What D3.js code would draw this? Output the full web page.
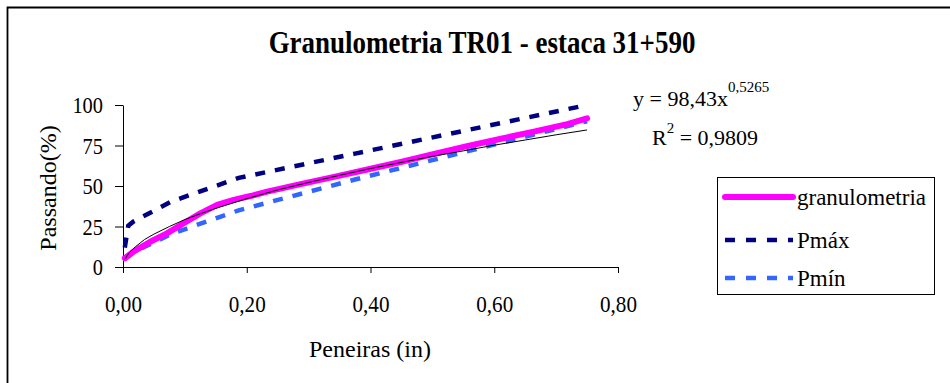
<!DOCTYPE html>
<html>
<head>
<meta charset="utf-8">
<script src="https://cdn.jsdelivr.net/npm/d3@7"></script>
<style>
  html, body { margin: 0; padding: 0; background: #fff; }
  svg { display: block; }
</style>
</head>
<body>
<svg id="chart" width="950" height="383"></svg>
<script>
// ---- data ----
const title = "Granulometria TR01 - estaca 31+590";
const xTicks = [0, 0.2, 0.4, 0.6, 0.8];
const yTicks = [0, 25, 50, 75, 100];
const xLabel = "Peneiras (in)";
const yLabel = "Passando(%)";
const seriesNames = ["granulometria", "Pmáx", "Pmín"];

const granX = [0.003, 0.017, 0.044, 0.071, 0.098, 0.125, 0.152, 0.179, 0.206, 0.233, 0.287, 0.341, 0.395, 0.449, 0.503, 0.556, 0.611, 0.664, 0.718, 0.75];
const granY = [5.4, 9.5, 15.6, 20.8, 27, 33.1, 38.3, 41.4, 43.8, 46.5, 51.2, 55.6, 60.2, 64.8, 69.8, 74.6, 79.2, 83.6, 88.2, 91.8];

const pmaxX = [0.0029, 0.0085, 0.0165, 0.0787, 0.187, 0.375, 0.75];
const pmaxY = [12, 25.5, 28, 40.5, 55, 70, 100];

const pminX = [0.0029, 0.0165, 0.0787, 0.187, 0.375, 0.75];
const pminY = [5, 9, 20.5, 35, 54, 90];

// trendline as drawn (thin black line)
const trendX = [0.003, 0.005, 0.01, 0.02, 0.035, 0.05, 0.075, 0.1, 0.125, 0.15, 0.2, 0.25, 0.3, 0.35, 0.4, 0.45, 0.5, 0.55, 0.6, 0.65, 0.7, 0.75];
const trendY = [4.8, 6, 8.8, 12.5, 17, 20.3, 25, 29.3, 32.9, 36.2, 42.2, 47.6, 52.2, 56.6, 60.8, 64.6, 68.3, 71.7, 75.2, 78.4, 81.6, 84.6];

const eqMain = "y = 98,43x";
const eqExp = "0,5265";
const r2Label = "R";
const r2Exp = "2";
const r2Value = " = 0,9809";

// ---- drawing ----
const FONT = "Liberation Serif";
const svg = d3.select("#chart");

// outer frame (top and left edges visible)
svg.append("path").attr("d", "M7.5,383 V7.5 H950")
  .attr("fill", "none").attr("stroke", "#000").attr("stroke-width", 1.8);

const x = d3.scaleLinear().domain([0, 0.8]).range([123, 618]);
const y = d3.scaleLinear().domain([0, 100]).range([267, 105]);

const comma = v => d3.format(".2f")(v).replace(".", ",");

function txt(sel, size) {
  return sel.attr("font-family", FONT).attr("font-size", size).attr("fill", "#000");
}

// title (narrow, tall glyphs as in the reference)
txt(svg.append("text"), 31).attr("transform", "translate(482,53) scale(0.87,1)")
  .attr("text-anchor", "middle").attr("font-weight", "bold").text(title);

// axes
const gx = svg.append("g").attr("transform", `translate(0,${y(0)})`)
  .call(d3.axisBottom(x).tickValues(xTicks).tickFormat(comma).tickSizeInner(6).tickSizeOuter(0).tickPadding(22));
const gy = svg.append("g").attr("transform", `translate(${x(0)},0)`)
  .call(d3.axisLeft(y).tickValues(yTicks).tickFormat(d3.format("d")).tickSizeInner(8).tickSizeOuter(0).tickPadding(12));
[gx, gy].forEach(g => {
  g.attr("font-family", FONT).attr("font-size", 24);
  g.selectAll("path.domain").attr("stroke", "#000").attr("stroke-width", 1);
  g.selectAll(".tick line").attr("stroke", "#000").attr("stroke-width", 1);
  txt(g.selectAll(".tick text"), 24);
});
gx.selectAll(".tick text").attr("transform", "scale(0.88,1)");
gy.selectAll(".tick text").attr("x", 0).attr("transform", "translate(-20,0) scale(0.85,1)");

// axis titles
txt(svg.append("text"), 24).attr("x", 370).attr("y", 357).attr("text-anchor", "middle").text(xLabel);
txt(svg.append("text"), 24).attr("transform", "translate(56,188) rotate(-90)").attr("text-anchor", "middle").text(yLabel);

// series
const line = d3.line().x(d => x(d[0])).y(d => y(d[1]));
const zip = (a, b) => a.map((v, i) => [v, b[i]]);

svg.append("path").datum(zip(pminX, pminY)).attr("d", line)
  .attr("fill", "none").attr("stroke", "#3366FF").attr("stroke-width", 4.5).attr("stroke-dasharray", "10,10");
svg.append("path").datum(zip(pmaxX, pmaxY)).attr("d", line)
  .attr("fill", "none").attr("stroke", "#000080").attr("stroke-width", 4.5).attr("stroke-dasharray", "10,10");
svg.append("path").datum(zip(granX, granY)).attr("d", line)
  .attr("fill", "none").attr("stroke", "#FF00FF").attr("stroke-width", 6).attr("stroke-linecap", "round").attr("stroke-linejoin", "round");
svg.append("path").datum(zip(trendX, trendY)).attr("d", line)
  .attr("fill", "none").attr("stroke", "#000").attr("stroke-width", 1);

// equation
const eq = txt(svg.append("text"), 22).attr("x", 633).attr("y", 106);
eq.append("tspan").text(eqMain);
eq.append("tspan").attr("dy", -14).attr("font-size", 15).text(eqExp);
const r2 = txt(svg.append("text"), 22).attr("x", 652).attr("y", 145);
r2.append("tspan").text(r2Label);
r2.append("tspan").attr("dy", -12).attr("font-size", 15).text(r2Exp);
r2.append("tspan").attr("dy", 12).text(r2Value);

// legend
const lg = svg.append("g");
lg.append("rect").attr("x", 717.5).attr("y", 177.5).attr("width", 217).attr("height", 117)
  .attr("fill", "#fff").attr("stroke", "#000").attr("stroke-width", 1);
const legendStyles = [
  {color: "#FF00FF", width: 6, dash: null, cap: "round"},
  {color: "#000080", width: 4.5, dash: "10,11", cap: "butt"},
  {color: "#3366FF", width: 4.5, dash: "10,11", cap: "butt"}
];
const legendY = [197, 240, 278];
seriesNames.forEach((name, i) => {
  const s = legendStyles[i];
  lg.append("line").attr("x1", 725).attr("x2", 793).attr("y1", legendY[i]).attr("y2", legendY[i])
    .attr("stroke", s.color).attr("stroke-width", s.width).attr("stroke-linecap", s.cap)
    .attr("stroke-dasharray", s.dash);
  txt(lg.append("text"), 23).attr("x", 797).attr("y", legendY[i] + 8).text(name);
});
</script>
</body>
</html>
